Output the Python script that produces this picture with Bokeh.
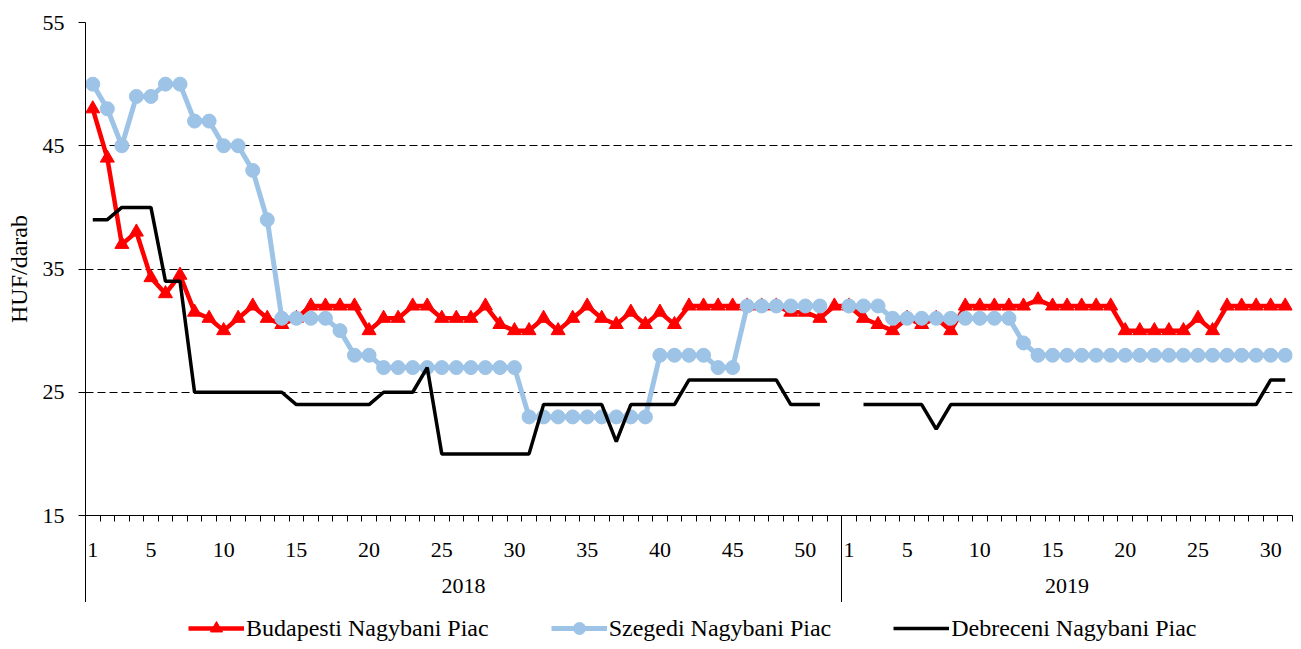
import numpy as np
from bokeh.plotting import figure
from bokeh.layouts import column
from bokeh.models import Range1d, FixedTicker, LinearAxis, Legend, LegendItem, ColumnDataSource
from bokeh.embed import file_html
from bokeh.resources import INLINE

# ---------------- data ----------------
years = ["2018", "2019"]
weeks_2018 = list(range(1, 53))
weeks_2019 = list(range(1, 32))
labels_2018 = [1, 5, 10, 15, 20, 25, 30, 35, 40, 45, 50]
labels_2019 = [1, 5, 10, 15, 20, 25, 30]
y_ticks = [15, 25, 35, 45, 55]

budapest_2018 = [48, 44, 37, 38, 34.3, 33, 34.5, 31.5, 31, 30,
                 31, 32, 31, 30.5, 31, 32, 32, 32, 32, 30,
                 31, 31, 32, 32, 31, 31, 31, 32, 30.5, 30,
                 30, 31, 30, 31, 32, 31, 30.5, 31.5, 30.5, 31.5,
                 30.5, 32, 32, 32, 32, 32, 32, 32, 31.5, 31.5,
                 31, 32]
budapest_2019 = [32, 31, 30.5, 30, 31, 30.5, 31, 30, 32, 32,
                 32, 32, 32, 32.5, 32, 32, 32, 32, 32, 30,
                 30, 30, 30, 30, 31, 30, 32, 32, 32, 32,
                 32]

szeged_2018 = [50, 48, 45, 49, 49, 50, 50, 47, 47, 45,
               45, 43, 39, 31, 31, 31, 31, 30, 28, 28,
               27, 27, 27, 27, 27, 27, 27, 27, 27, 27,
               23, 23, 23, 23, 23, 23, 23, 23, 23, 28,
               28, 28, 28, 27, 27, 32, 32, 32, 32, 32,
               32, None]
szeged_2019 = [32, 32, 32, 31, 31, 31, 31, 31, 31, 31,
               31, 31, 29, 28, 28, 28, 28, 28, 28, 28,
               28, 28, 28, 28, 28, 28, 28, 28, 28, 28,
               28]

debrecen_2018 = [39, 39, 40, 40, 40, 34, 34, 25, 25, 25,
                 25, 25, 25, 25, 24, 24, 24, 24, 24, 24,
                 25, 25, 25, 27, 20, 20, 20, 20, 20, 20,
                 20, 24, 24, 24, 24, 24, 21, 24, 24, 24,
                 24, 26, 26, 26, 26, 26, 26, 26, 24, 24,
                 24, None]
debrecen_2019 = [None, 24, 24, 24, 24, 24, 22, 24, 24, 24,
                 24, 24, 24, 24, 24, 24, 24, 24, 24, 24,
                 24, 24, 24, 24, 24, 24, 24, 24, 24, 26,
                 26]

series_names = ["Budapesti Nagybani Piac", "Szegedi Nagybani Piac", "Debreceni Nagybani Piac"]

# ---------------- build ----------------
n18, n19 = len(weeks_2018), len(weeks_2019)
n = n18 + n19
x = np.arange(n)

src = ColumnDataSource(dict(
    x=x,
    bud=np.array(budapest_2018 + budapest_2019, dtype=float),
    sze=np.array(szeged_2018 + szeged_2019, dtype=float),
    deb=np.array(debrecen_2018 + debrecen_2019, dtype=float),
))

FONT = "Liberation Serif"
W = 1293
RED, BLUE, BLACK = "#FF0000", "#9DC3E6", "#000000"

p = figure(width=W, height=602,
           x_range=Range1d(-0.5, n - 0.5), y_range=Range1d(15, 55),
           output_backend="svg", toolbar_location=None,
           min_border_left=85, min_border_top=22, min_border_right=1, min_border_bottom=0)
p.outline_line_color = None
p.background_fill_color = "white"
p.border_fill_color = "white"

# y axis
p.yaxis.ticker = FixedTicker(ticks=y_ticks)
p.yaxis.axis_label = "HUF/darab"
p.yaxis.axis_label_text_font = FONT
p.yaxis.axis_label_text_font_size = "24px"
p.yaxis.axis_label_text_font_style = "normal"
p.yaxis.axis_label_standoff = 8
p.yaxis.major_label_text_font = FONT
p.yaxis.major_label_text_font_size = "22px"
p.yaxis.major_label_standoff = 14
p.yaxis.major_tick_out = 7
p.yaxis.major_tick_in = 0
p.yaxis.minor_tick_line_color = None
p.yaxis.axis_line_color = BLACK
p.yaxis.major_tick_line_color = BLACK
p.yaxis.major_label_text_color = BLACK
p.yaxis.axis_label_text_color = BLACK

# grid
p.xgrid.grid_line_color = None
p.ygrid.ticker = FixedTicker(ticks=y_ticks[1:])
p.ygrid.grid_line_color = BLACK
p.ygrid.grid_line_dash = "8 4"
p.ygrid.grid_line_width = 1

# x axis 1: week labels, with tick marks (minor ticks) at category boundaries
bounds = list(np.arange(n + 1) - 0.5)
label_pos = [w - 1 for w in labels_2018] + [n18 + w - 1 for w in labels_2019]
label_txt = [str(w) for w in labels_2018] + [str(w) for w in labels_2019]
ax1 = p.xaxis[0]
ax1.ticker = FixedTicker(ticks=label_pos, minor_ticks=bounds)
ax1.major_label_overrides = dict(zip(label_pos, label_txt))
ax1.major_tick_line_color = None
ax1.major_tick_out = 0
ax1.major_tick_in = 0
ax1.minor_tick_line_color = BLACK
ax1.minor_tick_out = 6
ax1.minor_tick_in = 0
ax1.axis_line_color = BLACK
ax1.major_label_standoff = 21
ax1.major_label_text_font = FONT
ax1.major_label_text_font_size = "22px"
ax1.major_label_text_color = BLACK

# x axis 2: year labels
year_pos = [(n18 - 1) / 2, n18 + (n19 - 1) / 2]
ax2 = LinearAxis(ticker=FixedTicker(ticks=year_pos, minor_ticks=[]),
                 major_label_overrides=dict(zip(year_pos, years)),
                 axis_line_color=None, major_tick_line_color=None, minor_tick_line_color=None,
                 major_tick_out=0, major_tick_in=0, minor_tick_out=0, minor_tick_in=0,
                 major_label_standoff=19, major_label_text_font=FONT,
                 major_label_text_font_size="22px", major_label_text_color=BLACK)
p.add_layout(ax2, "below")

# x axis 3: group dividers (long minor ticks reaching up to the frame, no labels)
div_pos = [-0.5, n18 - 0.5]
ax3 = LinearAxis(ticker=FixedTicker(ticks=[], minor_ticks=div_pos),
                 axis_line_color=None, major_tick_line_color=None, minor_tick_line_color=BLACK,
                 major_tick_out=0, major_tick_in=0, minor_tick_out=7, minor_tick_in=80,
                 major_label_standoff=0)
p.add_layout(ax3, "below")

# series
p.line("x", "bud", source=src, line_color=RED, line_width=4.5)
p.scatter("x", "bud", source=src, marker="triangle", size=14, fill_color=RED, line_color=RED)
p.line("x", "sze", source=src, line_color=BLUE, line_width=5)
p.scatter("x", "sze", source=src, marker="circle", size=14, fill_color=BLUE, line_color=BLUE)
p.line("x", "deb", source=src, line_color=BLACK, line_width=3.5)

# ---------------- legend strip below the chart ----------------
lg = figure(width=W, height=41, output_backend="svg", toolbar_location=None,
            x_range=Range1d(-0.5, n - 0.5), y_range=Range1d(15, 55),
            x_axis_location=None, y_axis_location=None,
            min_border_left=85, min_border_right=1, min_border_top=0, min_border_bottom=0)
lg.outline_line_color = None
lg.xgrid.grid_line_color = None
lg.ygrid.grid_line_color = None
# legend-only renderers (hidden in this strip, shown as legend swatches)
l_bl = lg.line("x", "bud", source=src, line_color=RED, line_width=4.5, visible=False)
l_bs = lg.scatter("x", "bud", source=src, marker="triangle", size=14,
                  fill_color=RED, line_color=RED, visible=False)
l_sl = lg.line("x", "sze", source=src, line_color=BLUE, line_width=5, visible=False)
l_ss = lg.scatter("x", "sze", source=src, marker="circle", size=14,
                  fill_color=BLUE, line_color=BLUE, visible=False)
l_dl = lg.line("x", "deb", source=src, line_color=BLACK, line_width=3.5, visible=False)

legend = Legend(items=[
    LegendItem(label=series_names[0], renderers=[l_bl, l_bs]),
    LegendItem(label=series_names[1], renderers=[l_sl, l_ss]),
    LegendItem(label=series_names[2], renderers=[l_dl]),
], orientation="horizontal", location=(103, 0))
legend.label_text_font = FONT
legend.label_text_font_size = "24px"
legend.label_text_color = BLACK
legend.glyph_width = 56
legend.glyph_height = 30
legend.label_standoff = 2
legend.spacing = 62
legend.padding = 2
legend.margin = 0
legend.border_line_color = None
legend.background_fill_alpha = 0
lg.add_layout(legend, "center")

layout = column(p, lg, spacing=0)
open("out.html", "w").write(file_html(layout, INLINE))
